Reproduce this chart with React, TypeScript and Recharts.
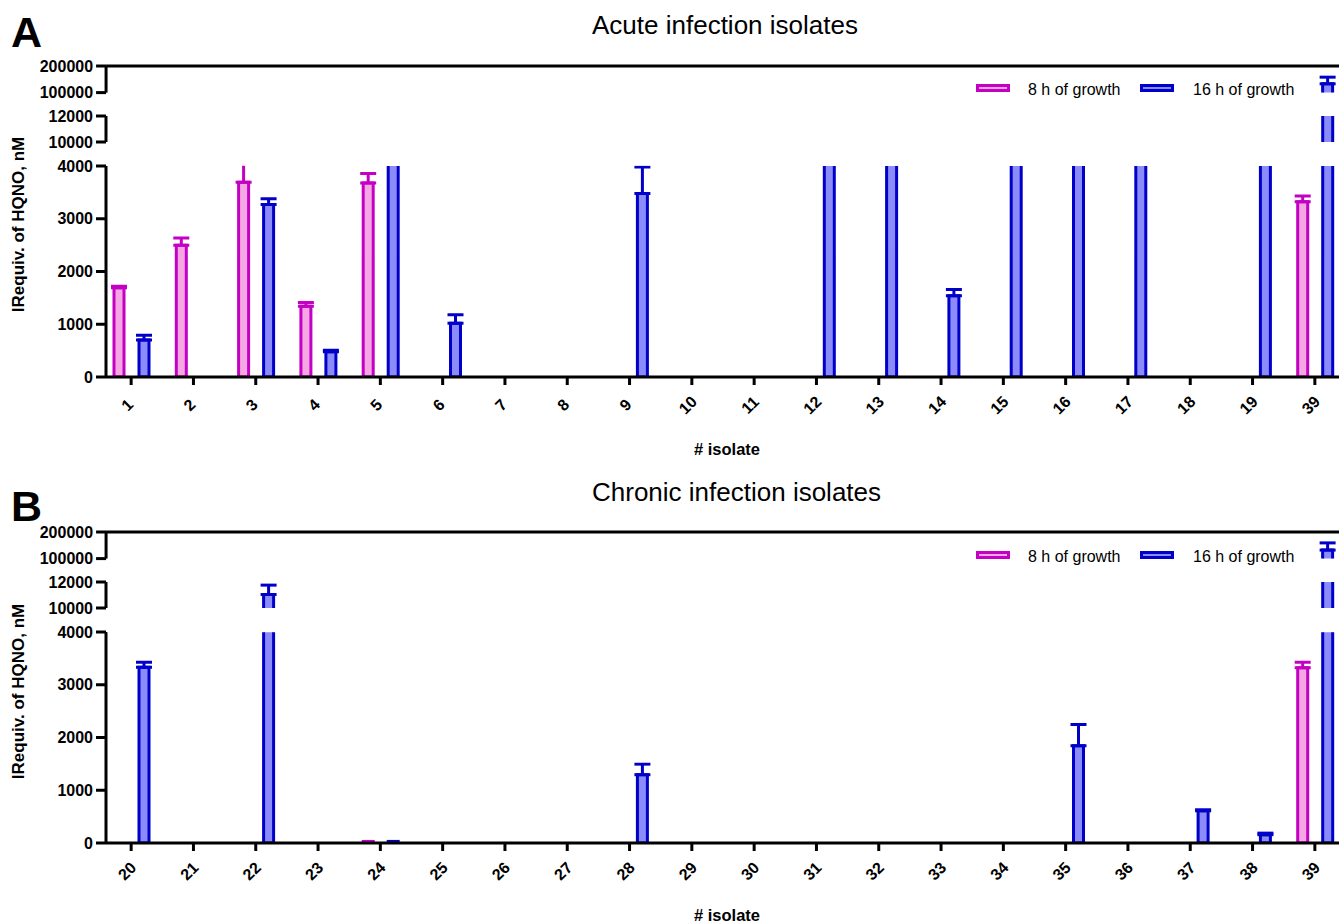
import { Bar, BarChart, ErrorBar, ReferenceLine, XAxis, YAxis } from "recharts";

// Panel A – acute infection isolates
const acuteIsolates = ["1", "2", "3", "4", "5", "6", "7", "8", "9", "10", "11", "12", "13", "14", "15", "16", "17", "18", "19", "39"];
const acute8h = [1690, 2500, 3690, 1340, 3680, 0, 0, 0, 0, 0, 0, 0, 0, 0, 0, 0, 0, 0, 0, 3320];
const acute8hErr = [30, 135, 450, 70, 180, 0, 0, 0, 0, 0, 0, 0, 0, 0, 0, 0, 0, 0, 0, 110];
const acute16h = [700, 0, 3270, 480, 6500, 1020, 0, 0, 3480, 0, 0, 7200, 6800, 1540, 7500, 6900, 7100, 0, 6600, 133000];
const acute16hErr = [90, 0, 110, 25, 0, 160, 0, 0, 500, 0, 0, 0, 0, 120, 0, 0, 0, 0, 0, 25000];

// Panel B – chronic infection isolates
const chronicIsolates = ["20", "21", "22", "23", "24", "25", "26", "27", "28", "29", "30", "31", "32", "33", "34", "35", "36", "37", "38", "39"];
const chronic8h = [0, 0, 0, 0, 30, 0, 0, 0, 0, 0, 0, 0, 0, 0, 0, 0, 0, 0, 0, 3320];
const chronic8hErr = [0, 0, 0, 0, 0, 0, 0, 0, 0, 0, 0, 0, 0, 0, 0, 0, 0, 0, 0, 105];
const chronic16h = [3330, 0, 11040, 0, 30, 0, 0, 0, 1295, 0, 0, 0, 0, 0, 0, 1845, 0, 610, 157, 132000];
const chronic16hErr = [95, 0, 720, 0, 0, 0, 0, 0, 200, 0, 0, 0, 0, 0, 0, 400, 0, 20, 30, 27000];

// broken y axis: three stacked segments
const segmentDomains: [number, number][] = [[100000, 200000], [10000, 12000], [0, 4000]];
const segmentTicks = [[100000, 200000], [10000, 12000], [0, 1000, 2000, 3000, 4000]];
const segmentTop = [65.7, 115.7, 165.7];
const segmentBottom = [92.3, 141.7, 376.7];

const FONT = "'Liberation Sans', Arial, Helvetica, sans-serif";
const PINK_FILL = "#f4a7e3";
const PINK_LINE = "#c400c4";
const BLUE_FILL = "#8b8bf9";
const BLUE_LINE = "#0000c8";
const CHART_W = 1346;
const MT = 12;
const Y_W = 106;

type Row = {
  isolate: string;
  h8: number[] | null;
  h16: number[] | null;
  e8: number[] | null;
  e16: number[] | null;
};

// bars are drawn as ranges from 0 so the segment's lower edge never gets a stroke
function buildRows(cats: string[], v8: number[], e8: number[], v16: number[], e16: number[], dom: [number, number]): Row[] {
  const reaches = (v: number) => v > dom[0] || (dom[0] === 0 && v > 0);
  const inside = (v: number) => v > dom[0] && v <= dom[1];
  return cats.map((c, i) => ({
    isolate: c,
    h8: reaches(v8[i]) ? [0, v8[i]] : null,
    h16: reaches(v16[i]) ? [0, v16[i]] : null,
    e8: inside(v8[i]) && e8[i] > 0 ? [0, e8[i]] : null,
    e16: inside(v16[i]) && e16[i] > 0 ? [0, e16[i]] : null,
  }));
}

const IsolateTick = (props: any) => {
  const { x, y, payload } = props;
  const cx = x - 4;
  const cy = y + 20;
  return (
    <text
      x={cx}
      y={cy}
      transform={`rotate(-45 ${cx} ${cy})`}
      textAnchor="middle"
      dominantBaseline="central"
      fontFamily={FONT}
      fontWeight="bold"
      fontSize={16}
      fill="#000"
    >
      {payload.value}
    </text>
  );
};

function Segment({ rows, idx }: { rows: Row[]; idx: number }) {
  const isBottom = idx === 2;
  const plotH = segmentBottom[idx] - segmentTop[idx];
  const xAxisH = 60;
  const height = MT + plotH + (isBottom ? xAxisH : 12);
  // error bars are not clipped by the chart, cut them at the top of the lowest segment
  const clip = isBottom
    ? `polygon(0 0, ${Y_W + 1}px 0, ${Y_W + 1}px ${MT}px, 100% ${MT}px, 100% 100%, 0 100%)`
    : undefined;
  return (
    <div style={{ position: "absolute", left: 0, top: segmentTop[idx] - MT, clipPath: clip }}>
      <BarChart
        width={CHART_W}
        height={height}
        data={rows}
        margin={{ top: MT, right: 0, bottom: isBottom ? 0 : 12, left: 0 }}
        barSize={10}
        barGap={15}
      >
        <Bar dataKey="h8" fill={PINK_FILL} stroke={PINK_LINE} strokeWidth={3} isAnimationActive={false}>
          <ErrorBar dataKey="e8" width={8} stroke={PINK_LINE} strokeWidth={3} direction="y" />
        </Bar>
        <Bar dataKey="h16" fill={BLUE_FILL} stroke={BLUE_LINE} strokeWidth={3} isAnimationActive={false}>
          <ErrorBar dataKey="e16" width={8} stroke={BLUE_LINE} strokeWidth={3} direction="y" />
        </Bar>
        {idx === 0 && <ReferenceLine y={200000} stroke="#000" strokeWidth={3} />}
        <XAxis
          dataKey="isolate"
          hide={!isBottom}
          height={xAxisH}
          padding={{ left: -6, right: 0 }}
          interval={0}
          tickSize={8}
          tickMargin={0}
          axisLine={{ stroke: "#000", strokeWidth: 3 }}
          tickLine={{ stroke: "#000", strokeWidth: 3 }}
          tick={<IsolateTick />}
        />
        <YAxis
          type="number"
          domain={segmentDomains[idx]}
          ticks={segmentTicks[idx]}
          allowDataOverflow
          interval={0}
          width={Y_W}
          tickSize={10}
          tickMargin={3}
          axisLine={{ stroke: "#000", strokeWidth: 3 }}
          tickLine={{ stroke: "#000", strokeWidth: 3 }}
          tick={{ fontSize: 16, fontWeight: "bold", fill: "#000", fontFamily: FONT }}
        />
      </BarChart>
    </div>
  );
}

function Panel(props: {
  top: number;
  letter: string;
  letterY: number;
  labelY: number;
  title: string;
  cats: string[];
  v8: number[];
  e8: number[];
  v16: number[];
  e16: number[];
}) {
  const { top, letter, letterY, labelY, title, cats, v8, e8, v16, e16 } = props;
  return (
    <div style={{ position: "absolute", left: 0, top, width: 1339, height: 467 }}>
      {[0, 1, 2].map((i) => (
        <Segment key={i} idx={i} rows={buildRows(cats, v8, e8, v16, e16, segmentDomains[i])} />
      ))}
      <svg width={1339} height={467} style={{ position: "absolute", left: 0, top: 0, pointerEvents: "none" }}>
        <text x={11} y={letterY} fontFamily={FONT} fontWeight="bold" fontSize={43} fill="#000">
          {letter}
        </text>
        <text x={592} y={34} fontFamily={FONT} fontSize={26} fill="#000">
          {title}
        </text>
        <text
          x={18.5}
          y={224.5}
          transform="rotate(-90 18.5 224.5)"
          textAnchor="middle"
          dominantBaseline="central"
          fontFamily={FONT}
          fontWeight="bold"
          fontSize={17}
          fill="#000"
        >
          IRequiv. of HQNO, nM
        </text>
        <text x={727} y={labelY} textAnchor="middle" fontFamily={FONT} fontWeight="bold" fontSize={16.5} fill="#000">
          # isolate
        </text>
        {/* legend */}
        <rect x={977.5} y={85.5} width={31} height={5} fill={PINK_FILL} stroke={PINK_LINE} strokeWidth={3} />
        <text x={1028} y={95} fontFamily={FONT} fontSize={16} fill="#000">
          8 h of growth
        </text>
        <rect x={1141.5} y={85.5} width={31} height={5} fill={BLUE_FILL} stroke={BLUE_LINE} strokeWidth={3} />
        <text x={1193} y={95} fontFamily={FONT} fontSize={16} fill="#000">
          16 h of growth
        </text>
      </svg>
    </div>
  );
}

export default function App() {
  return (
    <div style={{ position: "absolute", left: 0, top: 0, width: 1339, height: 922, overflow: "hidden", background: "#fff" }}>
      <Panel
        top={0}
        letter="A"
        letterY={46.5}
        labelY={455}
        title="Acute infection isolates"
        cats={acuteIsolates}
        v8={acute8h}
        e8={acute8hErr}
        v16={acute16h}
        e16={acute16hErr}
      />
      <Panel
        top={466.6}
        letter="B"
        letterY={53.5}
        labelY={453.5}
        title="Chronic infection isolates"
        cats={chronicIsolates}
        v8={chronic8h}
        e8={chronic8hErr}
        v16={chronic16h}
        e16={chronic16hErr}
      />
    </div>
  );
}
